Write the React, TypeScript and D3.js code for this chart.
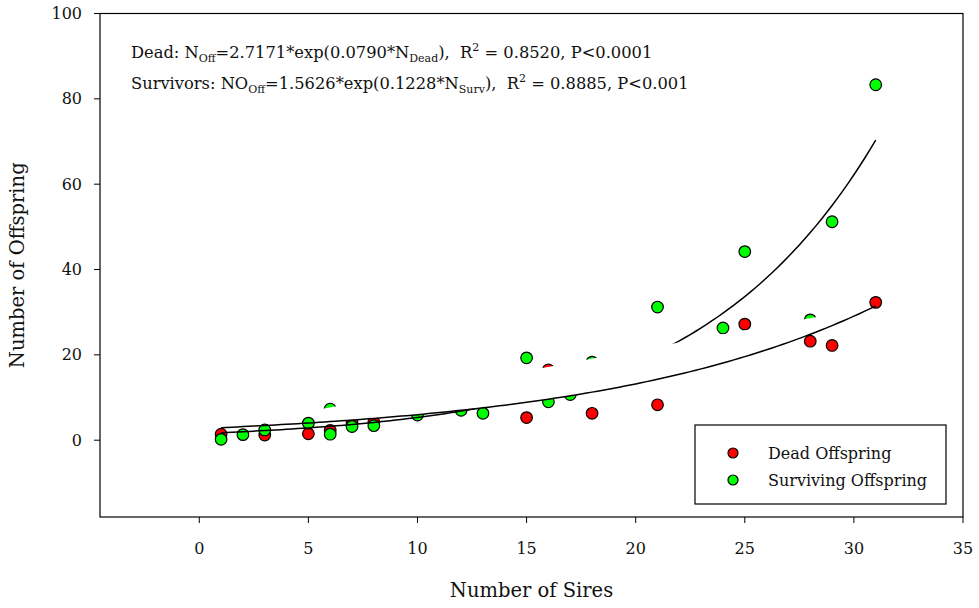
// Scatter of offspring counts vs. number of sires, with two exponential fits
import React, { useMemo } from 'react';
import { scaleLinear, line, area, range } from 'd3';

// ---- data ----
const deadSires = [1, 3, 5, 6, 7, 8, 15, 16, 18, 21, 25, 28, 29, 31];
const deadOffspring = [1.4, 1.2, 1.5, 2.3, 4.0, 4.2, 5.3, 16.5, 6.3, 8.3, 27.2, 23.2, 22.2, 32.3];

const survSires = [1, 2, 3, 5, 6, 6, 7, 8, 10, 12, 13, 15, 16, 17, 18, 21, 24, 25, 28, 29, 31];
const survOffspring = [0.2, 1.3, 2.4, 4.0, 7.3, 1.4, 3.2, 3.4, 5.9, 7.0, 6.3, 19.3, 9.0, 10.7, 18.3, 31.2, 26.3, 44.2, 28.2, 51.2, 83.3];

// fitted models (coefficients from the figure text)
const deadFit = { a: 2.7171, b: 0.079 };
const survFit = { a: 1.5626, b: 0.1228 };
const fitRange = [1, 31];

// white band that hides part of the plot in the original (data units)
const maskSires = [5.6, 29.5];
const maskTop = { slope: 0.95, intercept: 2 };

const xTicks = [0, 5, 10, 15, 20, 25, 30, 35];
const yTicks = [0, 20, 40, 60, 80, 100];

const legendLabels = ['Dead Offspring', 'Surviving Offspring'];
const legendColors = ['#ff0000', '#00ff00'];

const FONT = '"DejaVu Serif", serif';
const SP = '\u00a0';

const expFit = (f, x) => f.a * Math.exp(f.b * x);

export default function App() {
  const width = 979;
  const height = 608;

  // plot frame
  const left = 100;
  const right = 963;
  const top = 13.5;
  const bottom = 517;

  const xScale = useMemo(() => scaleLinear().domain([-4.55, 35]).range([left, right]), []);
  const yScale = useMemo(() => scaleLinear().domain([-18, 100]).range([bottom, top]), []);

  // sample the fitted curves
  const xs = range(fitRange[0], fitRange[1] + 0.001, 0.25);
  const curve = line().x((d) => xScale(d[0])).y((d) => yScale(d[1]));
  const deadPath = curve(xs.map((x) => [x, expFit(deadFit, x)]));
  const survPath = curve(xs.map((x) => [x, expFit(survFit, x)]));

  // white band between the dead curve and a straight top edge
  const maskXs = range(maskSires[0], maskSires[1] + 0.001, 0.25);
  const maskPath = area()
    .x((d) => xScale(d))
    .y0((d) => yScale(expFit(deadFit, d)))
    .y1((d) => yScale(maskTop.slope * d + maskTop.intercept))(maskXs);

  const r = 5.8;

  return (
    <svg
      width={width}
      height={height}
      style={{ position: 'absolute', left: 0, top: 0, background: '#fff' }}
      fontFamily={FONT}
    >
      {/* red points */}
      {deadSires.map((x, i) => (
        <circle key={'d' + i} cx={xScale(x)} cy={yScale(deadOffspring[i])} r={r} fill="#ff0000" stroke="#000" strokeWidth={1.2} />
      ))}
      {/* green points */}
      {survSires.map((x, i) => (
        <circle key={'s' + i} cx={xScale(x)} cy={yScale(survOffspring[i])} r={r} fill="#00ff00" stroke="#000" strokeWidth={1.2} />
      ))}

      <path d={survPath} fill="none" stroke="#000" strokeWidth={1.5} />
      <path d={maskPath} fill="#fff" stroke="none" />
      <path d={deadPath} fill="none" stroke="#000" strokeWidth={1.5} />

      {/* frame */}
      <rect x={left} y={top} width={right - left} height={bottom - top} fill="none" stroke="#000" strokeWidth={1.2} />

      {/* x axis ticks */}
      {xTicks.map((t) => (
        <g key={'x' + t} transform={`translate(${xScale(t)}, ${bottom})`}>
          <line y2={6} stroke="#000" strokeWidth={1} />
          <text y={37} textAnchor="middle" fontSize={16} fill="#111">{t}</text>
        </g>
      ))}
      {/* y axis ticks */}
      {yTicks.map((t) => (
        <g key={'y' + t} transform={`translate(${left}, ${yScale(t)})`}>
          <line x2={-6} stroke="#000" strokeWidth={1} />
          <text x={-18} dy="0.35em" textAnchor="end" fontSize={16} fill="#111">{t}</text>
        </g>
      ))}

      {/* axis titles */}
      <text x={(left + right) / 2} y={597} textAnchor="middle" fontSize={19.5} fill="#111">Number of Sires</text>
      <text transform={`translate(24, ${(top + bottom) / 2}) rotate(-90)`} textAnchor="middle" fontSize={19.5} fill="#111">
        Number of Offspring
      </text>

      {/* fit equations */}
      <text x={131} y={58} fontSize={16.3} fill="#111">
        Dead: N<tspan fontSize={11} dy={4}>Off</tspan>
        <tspan dy={-4}>=2.7171*exp(0.0790*N</tspan>
        <tspan fontSize={11} dy={4}>Dead</tspan>
        <tspan dy={-4}>{`),${SP} R`}</tspan>
        <tspan fontSize={11} dy={-7}>2</tspan>
        <tspan dy={7}> = 0.8520, P&lt;0.0001</tspan>
      </text>
      <text x={131} y={89} fontSize={16.3} fill="#111">
        Survivors: NO<tspan fontSize={11} dy={4}>Off</tspan>
        <tspan dy={-4}>=1.5626*exp(0.1228*N</tspan>
        <tspan fontSize={11} dy={4}>Surv</tspan>
        <tspan dy={-4}>{`),${SP} R`}</tspan>
        <tspan fontSize={11} dy={-7}>2</tspan>
        <tspan dy={7}> = 0.8885, P&lt;0.001</tspan>
      </text>

      {/* legend */}
      <rect x={695} y={425} width={251} height={79} fill="#fff" stroke="#000" strokeWidth={1.2} />
      {legendLabels.map((label, i) => (
        <g key={label} transform={`translate(733, ${453 + i * 27})`}>
          <circle r={5} fill={legendColors[i]} stroke="#000" strokeWidth={1.2} />
          <text x={35} dy="0.35em" fontSize={16} fill="#111">{label}</text>
        </g>
      ))}
    </svg>
  );
}
